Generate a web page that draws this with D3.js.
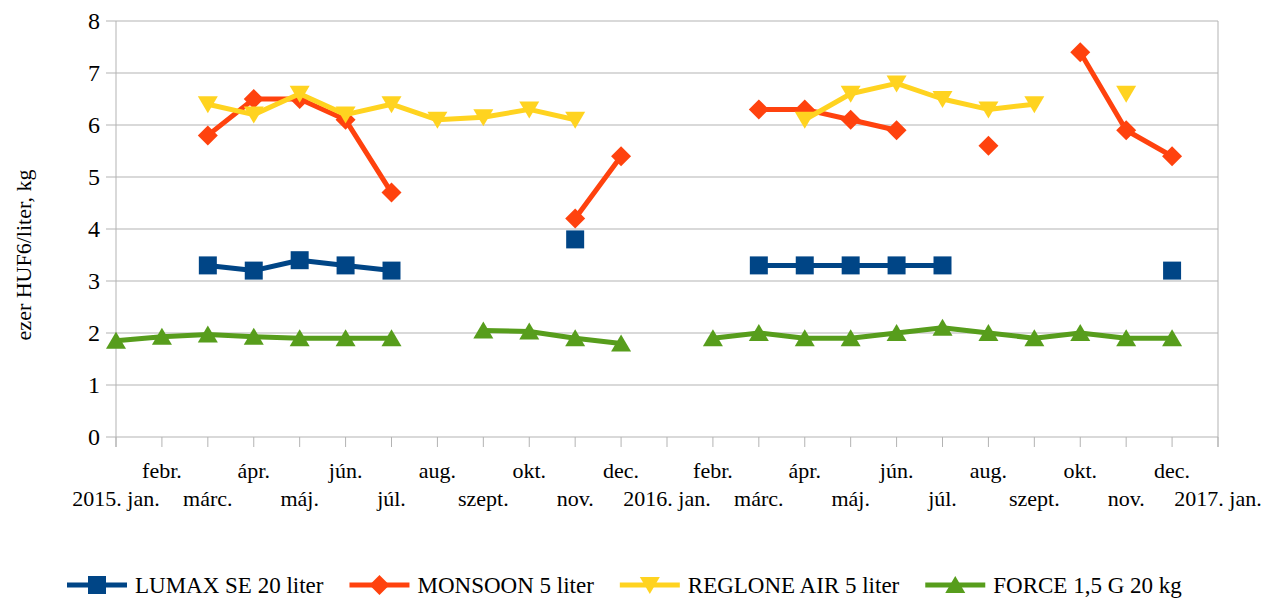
<!DOCTYPE html>
<html>
<head>
<meta charset="utf-8">
<script src="https://cdn.jsdelivr.net/npm/d3@7"></script>
</head>
<body style="margin:0">
<svg id="chart" width="1268" height="599"></svg>
<script>
// month labels, 2015. jan. .. 2017. jan.
const months = ["2015. jan.", "febr.", "márc.", "ápr.", "máj.", "jún.", "júl.", "aug.", "szept.", "okt.", "nov.", "dec.",
  "2016. jan.", "febr.", "márc.", "ápr.", "máj.", "jún.", "júl.", "aug.", "szept.", "okt.", "nov.", "dec.", "2017. jan."];

// prices (ezer HUF / liter, kg), null = no data
const lumax =    [null, null, 3.3, 3.2, 3.4, 3.3, 3.2, null, null, null, 3.8, null,
                  null, null, 3.3, 3.3, 3.3, 3.3, 3.3, null, null, null, null, 3.2, null];
const monsoon =  [null, null, 5.8, 6.5, 6.5, 6.1, 4.7, null, null, null, 4.2, 5.4,
                  null, null, 6.3, 6.3, 6.1, 5.9, null, 5.6, null, 7.4, 5.9, 5.4, null];
const reglone =  [null, null, 6.4, 6.2, 6.6, 6.2, 6.4, 6.1, 6.15, 6.3, 6.1, null,
                  null, null, null, 6.1, 6.6, 6.8, 6.5, 6.3, 6.4, null, 6.6, null, null];
const force =    [1.85, 1.93, 1.97, 1.93, 1.9, 1.9, 1.9, null, 2.05, 2.03, 1.9, 1.8,
                  null, 1.9, 2.0, 1.9, 1.9, 2.0, 2.1, 2.0, 1.9, 2.0, 1.9, 1.9, null];

const yTicks = [0, 1, 2, 3, 4, 5, 6, 7, 8];

const series = [
  {name: "LUMAX SE 20 liter", values: lumax, color: "#004586", symbol: "square"},
  {name: "MONSOON 5 liter", values: monsoon, color: "#ff420e", symbol: "diamond"},
  {name: "REGLONE AIR 5 liter", values: reglone, color: "#ffd320", symbol: "down"},
  {name: "FORCE 1,5 G 20 kg", values: force, color: "#579d1c", symbol: "up"}
];

const FONT = "Liberation Serif";
const W = 1268, H = 599;
const margin = {top: 21, right: 50, bottom: 162, left: 116};

const svg = d3.select("#chart");

const x = d3.scalePoint()
  .domain(d3.range(months.length))
  .range([margin.left, W - margin.right]);

const y = d3.scaleLinear()
  .domain([0, 8])
  .range([H - margin.bottom, margin.top]);

// horizontal grid
svg.append("g")
  .selectAll("line")
  .data(yTicks)
  .join("line")
    .attr("x1", margin.left - 10)
    .attr("x2", W - margin.right)
    .attr("y1", d => y(d))
    .attr("y2", d => y(d))
    .attr("stroke", "#b3b3b3")
    .attr("stroke-width", 1);

// left and right borders
svg.append("line")
  .attr("x1", margin.left).attr("x2", margin.left)
  .attr("y1", y(8)).attr("y2", y(0) + 10)
  .attr("stroke", "#b3b3b3");
svg.append("line")
  .attr("x1", W - margin.right).attr("x2", W - margin.right)
  .attr("y1", y(8)).attr("y2", y(0) + 10)
  .attr("stroke", "#b3b3b3");

// x ticks
svg.append("g")
  .selectAll("line")
  .data(months.map((m, i) => i))
  .join("line")
    .attr("x1", d => x(d)).attr("x2", d => x(d))
    .attr("y1", y(0)).attr("y2", y(0) + 10)
    .attr("stroke", "#b3b3b3");

// x labels, two staggered rows
svg.append("g")
  .selectAll("text")
  .data(months)
  .join("text")
    .attr("x", (d, i) => x(i))
    .attr("y", (d, i) => i % 2 ? 478 : 506)
    .attr("text-anchor", "middle")
    .attr("font-family", FONT)
    .attr("font-size", 22)
    .text(d => d);

// y labels
svg.append("g")
  .selectAll("text")
  .data(yTicks)
  .join("text")
    .attr("x", 100)
    .attr("y", d => y(d) + 8)
    .attr("text-anchor", "end")
    .attr("font-family", FONT)
    .attr("font-size", 24)
    .text(d => d);

svg.append("text")
  .attr("transform", `translate(31,255) rotate(-90)`)
  .attr("text-anchor", "middle")
  .attr("font-family", FONT)
  .attr("font-size", 22)
  .text("ezer HUF6/liter, kg");

function symbolPath(type) {
  if (type === "square") return "M-9,-9H9V9H-9Z";
  if (type === "diamond") return "M0,-10L10,0L0,10L-10,0Z";
  if (type === "down") return "M-10,-8H10L0,9Z";
  return "M0,-9L10,8H-10Z";
}

const line = d3.line()
  .defined(d => d != null)
  .x((d, i) => x(i))
  .y(d => y(d));

series.forEach(s => {
  const g = svg.append("g");
  g.append("path")
    .attr("d", line(s.values))
    .attr("fill", "none")
    .attr("stroke", s.color)
    .attr("stroke-width", 5)
    .attr("stroke-linejoin", "round");
  g.selectAll("path.m")
    .data(s.values.map((v, i) => ({v, i})).filter(d => d.v != null))
    .join("path")
      .attr("class", "m")
      .attr("transform", d => `translate(${x(d.i)},${y(d.v)})`)
      .attr("d", symbolPath(s.symbol))
      .attr("fill", s.color);
});

// legend
const legend = svg.append("g");
let lx = 67;
const ly = 585;
series.forEach(s => {
  const item = legend.append("g");
  item.append("line")
    .attr("x1", lx).attr("x2", lx + 60)
    .attr("y1", ly).attr("y2", ly)
    .attr("stroke", s.color).attr("stroke-width", 5);
  item.append("path")
    .attr("transform", `translate(${lx + 30},${ly})`)
    .attr("d", symbolPath(s.symbol))
    .attr("fill", s.color);
  const t = item.append("text")
    .attr("x", lx + 68)
    .attr("y", ly + 8)
    .attr("font-family", FONT)
    .attr("font-size", 23)
    .text(s.name);
  lx += 68 + t.node().getComputedTextLength() + 26;
});
</script>
</body>
</html>
